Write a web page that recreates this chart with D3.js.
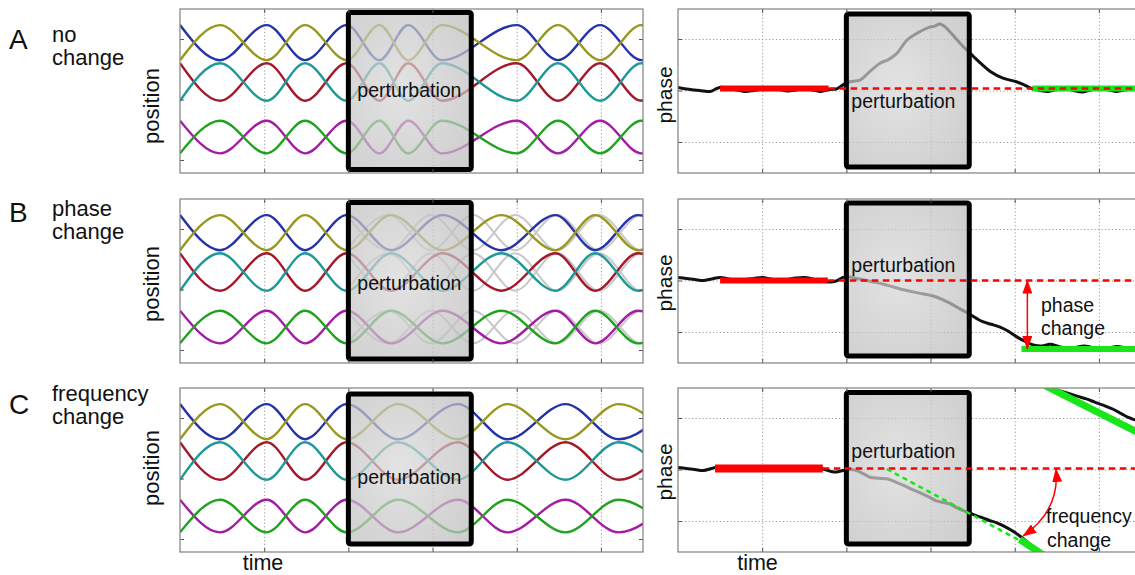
<!DOCTYPE html>
<html><head><meta charset="utf-8">
<script src="https://cdn.jsdelivr.net/npm/d3@7"></script>
<style>
body{margin:0;background:#fff}
svg{display:block}
text{font-family:"Liberation Sans",Arial,Helvetica,sans-serif;fill:#111}
</style>
</head><body>
<svg id="c" width="1135" height="575"></svg>
<script>
// ================= DATA =================
const panelLetters = ["A","B","C"];
const panelTitles  = [["no","change"],["phase","change"],["frequency","change"]];
const timeTicks     = [1,2,3,4,5];
const positionTicks = [-1,0,1];
const phaseTicks    = [-1,0,1];
const perturbation  = [2.0, 3.46];     // time span of the perturbation

// oscillators (left panels)
const oscColors  = ["#2633a8","#98981e","#a3182a","#1f9898","#a31ca3","#1fa31f"];
const oscCenters = [0.94,0.94,0.29,0.29,-0.62,-0.62];
const oscAmps    = [0.29,0.29,0.31,0.31,0.27,0.27];
const oscSigns   = [1,-1,1,-1,1,-1];

// extremum times (max, min, max, ...)
const extremaA = [0,0.475,1.03,1.485,1.98,2.37,2.71,3.11,4.0,4.49,4.99,5.48,5.98];
const extremaB = [0,0.475,1.03,1.485,1.98,2.51,3.12,3.82,4.46,4.93,5.44,5.94];
const extremaC = [0,0.475,1.03,1.485,1.98,2.59,3.3,3.89,4.58,5.21,5.85];
const extremaGhostB = [1.98,2.48,2.98,3.48,3.98,4.48,4.98,5.48,5.98]; // unperturbed continuation

// phase traces (right panels): [time, phase]
const phaseA = [[0,0.06],[0.1,0.03],[0.2,0.01],[0.3,-0.01],[0.38,-0.02],[0.45,0.03],[0.5,0.06],[0.6,0.04],[0.7,0.01],[0.8,-0.02],[0.9,0.0],[1.0,0.03],[1.1,0.05],[1.2,0.02],[1.3,-0.01],[1.4,0.01],[1.5,0.04],[1.6,0.01],[1.7,-0.02],[1.8,0.02],[1.88,0.03],[1.96,0.11],[2.04,0.17],[2.16,0.2],[2.28,0.37],[2.4,0.53],[2.5,0.6],[2.6,0.72],[2.72,0.98],[2.87,1.14],[2.99,1.23],[3.05,1.25],[3.11,1.29],[3.17,1.24],[3.23,1.14],[3.39,0.85],[3.51,0.66],[3.6,0.52],[3.71,0.37],[3.86,0.24],[4.02,0.17],[4.1,0.12],[4.2,0.04],[4.3,0.0],[4.4,-0.02],[4.5,0.02],[4.6,0.04],[4.7,0.0],[4.8,-0.03],[4.9,0.01],[5.0,0.04],[5.1,0.02],[5.2,-0.02],[5.3,0.01],[5.45,0.03]];
const phaseB = [[0,0.06],[0.1,0.04],[0.2,0.02],[0.3,0.0],[0.4,0.03],[0.5,0.06],[0.6,0.03],[0.7,0.0],[0.8,0.02],[0.9,0.04],[1.0,0.06],[1.1,0.03],[1.2,0.0],[1.3,0.02],[1.4,0.05],[1.5,0.06],[1.6,0.03],[1.7,-0.01],[1.8,-0.03],[1.88,-0.01],[1.96,0.06],[2.04,0.07],[2.12,0.04],[2.24,0.0],[2.36,-0.04],[2.5,-0.1],[2.68,-0.18],[2.85,-0.24],[3.03,-0.3],[3.13,-0.36],[3.23,-0.44],[3.35,-0.55],[3.45,-0.64],[3.55,-0.74],[3.62,-0.8],[3.72,-0.85],[3.82,-0.9],[3.92,-0.98],[4.02,-1.09],[4.12,-1.18],[4.22,-1.25],[4.32,-1.27],[4.42,-1.24],[4.52,-1.28],[4.62,-1.31],[4.72,-1.3],[4.82,-1.27],[4.92,-1.3],[5.02,-1.33],[5.12,-1.31],[5.22,-1.28],[5.32,-1.31],[5.45,-1.33]];
const phaseC1 = [[0,0.04],[0.1,0.02],[0.2,0.0],[0.3,-0.02],[0.4,0.02],[0.5,0.06],[0.6,0.04],[0.7,0.01],[0.8,-0.01],[0.9,0.02],[1.0,0.04],[1.1,0.02],[1.2,0.0],[1.3,0.02],[1.4,0.04],[1.5,0.05],[1.6,0.03],[1.72,0.01],[1.85,-0.05],[1.96,-0.02],[2.04,0.0],[2.12,-0.02],[2.2,-0.08],[2.28,-0.15],[2.38,-0.17],[2.48,-0.18],[2.58,-0.24],[2.68,-0.31],[2.8,-0.4],[2.91,-0.48],[3.0,-0.55],[3.07,-0.61],[3.15,-0.64],[3.23,-0.67],[3.31,-0.74],[3.39,-0.8],[3.47,-0.85],[3.55,-0.9],[3.62,-0.94],[3.7,-0.99],[3.78,-1.03],[3.86,-1.09],[3.96,-1.18],[4.06,-1.29],[4.16,-1.42],[4.26,-1.55],[4.34,-1.65]];
const phaseC2 = [[4.37,1.65],[4.45,1.57],[4.55,1.52],[4.65,1.47],[4.75,1.42],[4.85,1.37],[4.95,1.31],[5.05,1.25],[5.17,1.17],[5.27,1.08],[5.35,1.01],[5.45,0.95]];

// fitted phase levels
const refLevels = [0.04, 0.0, 0.02];
const refFitSpans = [[0.5,1.79],[0.5,1.78],[0.44,1.72]];
const newFitA  = [[4.21,0.04],[5.5,0.04]];
const newFitB  = [[4.08,-1.33],[5.5,-1.33]];
const newFitC1 = [[4.06,-1.36],[4.34,-1.66]];
const newFitC2 = [[4.36,1.63],[5.45,0.73]];
const extrapC  = [[2.48,0.01],[4.06,-1.38]];
const phaseArrowB = [[4.15,0.0],[4.15,-1.33]];
const freqArrowC  = [[4.49,0.01],[4.10,-1.29]];

// ================= LAYOUT =================
const svg = d3.select("#c");
const LX0 = 180, LX1 = 643, RX0 = 678, RX1 = 1141, PH = 164, TMAX = 5.5;
const tops = [9,199,388];

const defs = svg.append("defs");
const grad = defs.append("radialGradient").attr("id","boxg").attr("cx","42%").attr("cy","48%").attr("r","70%");
grad.append("stop").attr("offset","0%").attr("stop-color","#d8d8d8");
grad.append("stop").attr("offset","100%").attr("stop-color","#bcbcbc");
defs.append("marker").attr("id","arr").attr("viewBox","0 0 14 10")
  .attr("refX",13).attr("refY",5).attr("markerWidth",14).attr("markerHeight",10)
  .attr("markerUnits","userSpaceOnUse").attr("orient","auto-start-reverse")
  .append("path").attr("d","M0,0 L14,5 L0,10 Z").attr("fill","#ff0000");

function clean(s){ s.select(".domain").remove(); s.selectAll("line").attr("stroke","#555").attr("stroke-width",1); }

function addClip(id, x0, x1, top){
  defs.append("clipPath").attr("id",id).append("rect")
    .attr("x",x0).attr("y",top).attr("width",x1-x0).attr("height",PH);
}

function innerTicks(g, x, y, x0, x1, top, yTicks, rightSide){
  g.append("g").attr("transform",`translate(0,${top+PH})`)
    .call(d3.axisBottom(x).tickValues(timeTicks).tickSize(-4).tickFormat("")).call(clean);
  g.append("g").attr("transform",`translate(0,${top})`)
    .call(d3.axisTop(x).tickValues(timeTicks).tickSize(-4).tickFormat("")).call(clean);
  g.append("g").attr("transform",`translate(${x0},0)`)
    .call(d3.axisLeft(y).tickValues(yTicks).tickSize(-4).tickFormat("")).call(clean);
  if(rightSide) g.append("g").attr("transform",`translate(${x1},0)`)
    .call(d3.axisRight(y).tickValues(yTicks).tickSize(-4).tickFormat("")).call(clean);
}

function drawBox(g, x, top, insetTop, insetBot){
  g.append("rect")
    .attr("x", x(perturbation[0])).attr("y", top+insetTop)
    .attr("width", x(perturbation[1])-x(perturbation[0]))
    .attr("height", PH-insetTop-insetBot)
    .attr("rx",2)
    .attr("fill","url(#boxg)").attr("fill-opacity",0.72)
    .attr("stroke","#000").attr("stroke-width",5);
}

const leftExtrema = [extremaA, extremaB, extremaC];
const leftTextBase = [88, 91, 96];
const rightTextBase = [99, 73, 70];
const boxInsets = [[3.5,3.5],[3.5,4],[6,8]];
const rboxInsets = [[5,6],[4,7],[4.5,8]];

// ---------- left panels ----------
leftExtrema.forEach((ext, i) => {
  const top = tops[i];
  const x = d3.scaleLinear().domain([0,TMAX]).range([LX0,LX1]);
  const y = d3.scaleLinear().domain([-(PH-90.5)/60.5, 90.5/60.5]).range([top+PH, top]);
  const g = svg.append("g");
  addClip("cl"+i, LX0, LX1, top);
  g.append("g").attr("transform",`translate(0,${top+PH})`)
    .call(d3.axisBottom(x).tickValues(timeTicks).tickSize(-PH).tickFormat(""))
    .call(s=>{ s.select(".domain").remove(); s.selectAll("line").attr("stroke","#9a9a9a").attr("stroke-dasharray","1.2,2.3"); });
  const plot = g.append("g").attr("clip-path",`url(#cl${i})`);
  const ln = d3.line().x(d=>x(d[0])).y(d=>y(d[1])).curve(d3.curveMonotoneX);
  const pts = (list, k) => list.map((t,j)=>[t, oscCenters[k] + oscAmps[k]*oscSigns[k]*(j%2===0?1:-1)]);
  if(i===1){
    oscColors.forEach((c,k)=>{
      plot.append("path").attr("d", ln(pts(extremaGhostB,k))).attr("fill","none")
        .attr("stroke","#c8c8c8").attr("stroke-width",2);
    });
  }
  oscColors.forEach((c,k)=>{
    plot.append("path").attr("d", ln(pts(ext,k))).attr("fill","none")
      .attr("stroke",c).attr("stroke-width",2.4);
  });
  drawBox(g, x, top, boxInsets[i][0], boxInsets[i][1]);
  g.append("text").attr("x", x(perturbation[0])+9).attr("y", top+leftTextBase[i])
    .attr("font-size",19.5).text("perturbation");
  innerTicks(g, x, y, LX0, LX1, top, positionTicks, true);
  g.append("rect").attr("x",LX0).attr("y",top).attr("width",LX1-LX0).attr("height",PH)
    .attr("fill","none").attr("stroke","#808080").attr("stroke-width",1.2);
});

// ---------- right panels ----------
const traces = [[phaseA],[phaseB],[phaseC1,phaseC2]];
const newFits = [[newFitA],[newFitB],[newFitC1,newFitC2]];
traces.forEach((segs, i) => {
  const top = tops[i];
  const x = d3.scaleLinear().domain([0,TMAX]).range([RX0,RX1]);
  const y = d3.scaleLinear().domain([-(PH-81.5)/51.5, 81.5/51.5]).range([top+PH, top]);
  const g = svg.append("g");
  addClip("cr"+i, RX0, RX1, top);
  g.append("g").attr("transform",`translate(0,${top+PH})`)
    .call(d3.axisBottom(x).tickValues(timeTicks).tickSize(-PH).tickFormat(""))
    .call(s=>{ s.select(".domain").remove(); s.selectAll("line").attr("stroke","#9a9a9a").attr("stroke-dasharray","1.2,2.3"); });
  g.append("g").attr("transform",`translate(${RX0},0)`)
    .call(d3.axisLeft(y).tickValues(phaseTicks).tickSize(-(RX1-RX0)).tickFormat(""))
    .call(s=>{ s.select(".domain").remove(); s.selectAll("line").attr("stroke","#9a9a9a").attr("stroke-dasharray","1.2,2.3"); });
  const plot = g.append("g").attr("clip-path",`url(#cr${i})`);
  const ln = d3.line().x(d=>x(d[0])).y(d=>y(d[1])).curve(d3.curveLinear);
  const lnS = d3.line().x(d=>x(d[0])).y(d=>y(d[1])).curve(d3.curveCatmullRom);
  segs.forEach(s => plot.append("path").attr("d", lnS(s)).attr("fill","none")
    .attr("stroke","#111").attr("stroke-width",3).attr("stroke-linejoin","round"));
  plot.append("path").attr("d", ln([[refFitSpans[i][0],refLevels[i]],[refFitSpans[i][1],refLevels[i]]]))
    .attr("stroke","#ff0000").attr("stroke-width", i===2?8:6).attr("fill","none");
  newFits[i].forEach(s => plot.append("path").attr("d", ln(s))
    .attr("stroke","#19e619").attr("stroke-width", i===2?7:6).attr("fill","none"));
  drawBox(g, x, top, rboxInsets[i][0], rboxInsets[i][1]);
  const over = g.append("g").attr("clip-path",`url(#cr${i})`);
  over.append("path").attr("d", ln([[refFitSpans[i][1],refLevels[i]],[TMAX,refLevels[i]]]))
    .attr("stroke","#ff0000").attr("stroke-width",2.5).attr("stroke-dasharray","6.5,4.5").attr("fill","none");
  if(i===2){
    over.append("path").attr("d", ln(extrapC))
      .attr("stroke","#19e619").attr("stroke-width",2.5).attr("stroke-dasharray","5,4").attr("fill","none");
  }
  g.append("text").attr("x", x(perturbation[0])+5).attr("y", top+rightTextBase[i])
    .attr("font-size",19.5).text("perturbation");
  innerTicks(g, x, y, RX0, RX1, top, phaseTicks, false);
  g.append("rect").attr("x",RX0).attr("y",top).attr("width",RX1-RX0).attr("height",PH)
    .attr("fill","none").attr("stroke","#808080").attr("stroke-width",1.2);

  if(i===1){
    g.append("path").attr("d", ln(phaseArrowB)).attr("stroke","#ff0000").attr("stroke-width",1.5)
      .attr("fill","none").attr("marker-start","url(#arr)").attr("marker-end","url(#arr)");
    g.append("text").attr("x",1041).attr("y",311.5).attr("font-size",19.5).text("phase");
    g.append("text").attr("x",1041).attr("y",335).attr("font-size",19.5).text("change");
  }
  if(i===2){
    const p0=[x(freqArrowC[0][0]), y(freqArrowC[0][1])];
    const p2=[x(freqArrowC[1][0]), y(freqArrowC[1][1])];
    const cpt=[Math.max(p0[0],p2[0])+4, (p0[1]+p2[1])/2+8];
    g.append("path").attr("d",`M${p0[0]},${p0[1]} Q${cpt[0]},${cpt[1]} ${p2[0]},${p2[1]}`)
      .attr("stroke","#ff0000").attr("stroke-width",1.5).attr("fill","none")
      .attr("marker-start","url(#arr)").attr("marker-end","url(#arr)");
    g.append("text").attr("x",1046).attr("y",523).attr("font-size",19.5).text("frequency");
    g.append("text").attr("x",1047).attr("y",546.5).attr("font-size",19.5).text("change");
  }
});

// ---------- labels ----------
const letterBase = [48.5, 222, 414];
const titleBase  = [[42,65],[216,239],[401,424]];
const posCenters = [106, 284, 468];
const phaseCenters = [95, 283, 472];
panelLetters.forEach((L,i)=>{
  svg.append("text").attr("x",9).attr("y",letterBase[i]).attr("font-size",28).text(L);
  panelTitles[i].forEach((t,j)=>{
    svg.append("text").attr("x",52).attr("y",titleBase[i][j]).attr("font-size",22).text(t);
  });
  svg.append("text").attr("transform",`translate(159,${posCenters[i]}) rotate(-90)`)
    .attr("text-anchor","middle").attr("font-size",22).text("position");
  svg.append("text").attr("transform",`translate(671.5,${phaseCenters[i]}) rotate(-90)`)
    .attr("text-anchor","middle").attr("font-size",21).text("phase");
});
svg.append("text").attr("x",263).attr("y",570).attr("text-anchor","middle").attr("font-size",21.5).text("time");
svg.append("text").attr("x",757.5).attr("y",570).attr("text-anchor","middle").attr("font-size",21.5).text("time");
</script>
</body></html>
